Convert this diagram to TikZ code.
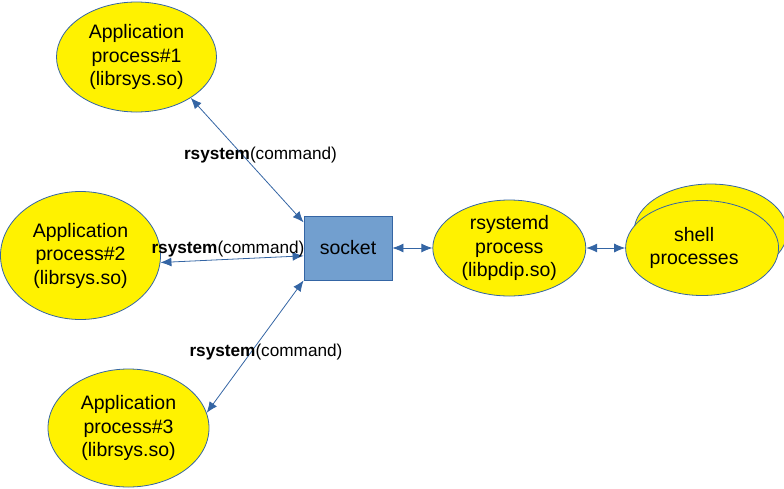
\documentclass[tikz,border=0pt]{standalone}
\usepackage{fontspec}
\setmainfont{Liberation Sans}
\usetikzlibrary{shapes.geometric,positioning,arrows.meta}
\definecolor{lineblue}{HTML}{3465A4}
\definecolor{sockfill}{HTML}{729FCF}

\begin{document}
\begin{tikzpicture}[x=1pt,y=-1pt,
    proc/.style={ellipse, draw=lineblue, line width=0.8pt, fill=yellow, inner sep=0pt,
                 align=center, font=\fontsize{19.5}{23.5}\selectfont},
    sockbox/.style={rectangle, draw=lineblue, line width=0.8pt, fill=sockfill,
                 minimum width=88pt, minimum height=64pt, font=\fontsize{19.5}{23.5}\selectfont},
    link/.style={{Latex[length=11pt,width=9pt]}-{Latex[length=11pt,width=9pt]}, draw=lineblue, line width=0.8pt},
    cmd/.style={inner sep=0pt, font=\fontsize{17.2}{20}\selectfont}]

  \useasboundingbox (0,0) rectangle (784,488);

  % Nodes
  \node[sockbox] (sock) at (348,248) {socket}; %
  \node[proc, minimum width=160pt, minimum height=110pt] (app_1) at (136.5,57) {Application\\process\#1\\(librsys.so)}; %
  \node[proc, minimum width=160pt, minimum height=128pt] (app_2) at (80.5,255.5) {Application\\process\#2\\(librsys.so)}; %
  \node[proc, minimum width=161pt, minimum height=118pt] (app_3) at (128.5,428) {Application\\process\#3\\(librsys.so)}; %

  \node[proc, minimum width=153pt, minimum height=96pt, right = 40pt of sock] (rsysd) {rsystemd\\process\\(libpdip.so)}; %
  \node[proc, minimum width=153pt, minimum height=95pt, right = 47.5pt of rsysd, yshift=16.5pt] (shell_back) {}; %
  \node[proc, minimum width=153pt, minimum height=95pt, right = 39pt of rsysd] (shell) {shell\hspace*{16pt}\\processes\hspace*{16pt}}; %

  % Edges
  \draw[link] (app_1.-37) -- (sock.150);
  \draw[link] (app_2.-5) -- (sock.190);
  \draw[link] (app_3.11) -- (sock.south west);
  \draw[link] (sock) -- (rsysd);
  \draw[link] (rsysd) -- (shell);

  % Labels
  \node[cmd] (cmd_1) at (260.5,155) {\textbf{rsystem}(command)}; %
  \node[cmd] (cmd_2) at (228,249) {\textbf{rsystem}(command)}; %
  \node[cmd] (cmd_3) at (266,352) {\textbf{rsystem}(command)}; %

\end{tikzpicture}
\end{document}
